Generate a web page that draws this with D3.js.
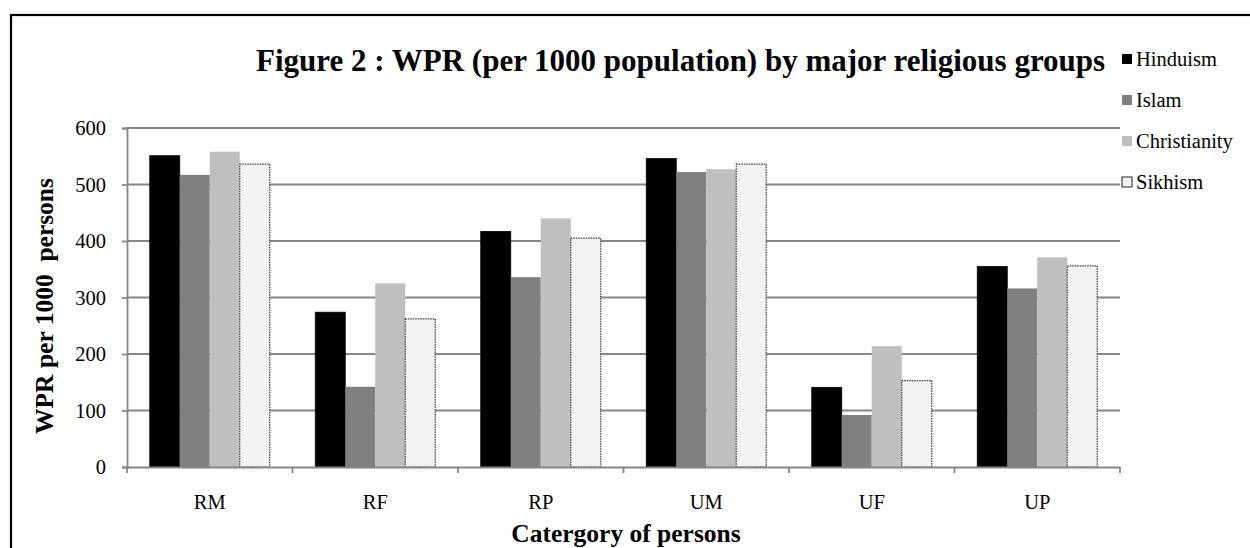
<!DOCTYPE html>
<html lang="en">
<head>
    <meta charset="UTF-8">
    <title>WPR by religious groups</title>
    <script src="https://cdnjs.cloudflare.com/ajax/libs/d3/7.8.5/d3.min.js"></script>
    <style>
        body { margin: 0; background: #fff; }
        svg text { font-family: "Liberation Serif", "Times New Roman", serif; }
    </style>
</head>
<body>
    <script>
        const categories = ['RM', 'RF', 'RP', 'UM', 'UF', 'UP'];
        const religions = ['Hinduism', 'Islam', 'Christianity', 'Sikhism'];
        const hinduism = [551, 274, 417, 546, 141, 355];
        const islam = [517, 142, 336, 522, 92, 316];
        const christianity = [558, 325, 440, 527, 214, 371];
        const sikhism = [536, 262, 405, 536, 153, 356];
        const yTicks = [0, 100, 200, 300, 400, 500, 600];

        const seriesValues = [hinduism, islam, christianity, sikhism];
        const fills = ['#000000', '#808080', '#bfbfbf', '#f2f2f2'];
        const serif = '"Liberation Serif", "Times New Roman", serif';

        const w = 1250;
        const h = 548;
        const plotLeft = 127, plotRight = 1120, plotTop = 128, plotBottom = 467;

        const svg = d3.select('body')
            .append('svg')
            .attr('width', w)
            .attr('height', h)
            .attr('font-family', serif);

        // outer frame (cut off at right and bottom)
        svg.append('rect')
            .attr('x', 11).attr('y', 15)
            .attr('width', 1400).attr('height', 700)
            .attr('fill', 'none')
            .attr('stroke', '#000')
            .attr('stroke-width', 2.2);

        const x0 = d3.scaleBand()
            .domain(categories)
            .range([plotLeft, plotRight]);

        const groupPad = x0.bandwidth() * 0.1375;
        const x1 = d3.scaleBand()
            .domain(religions)
            .range([groupPad, x0.bandwidth() - groupPad]);

        const yScale = d3.scaleLinear()
            .domain([0, 600])
            .range([plotBottom, plotTop]);

        // gridlines
        svg.append('g')
            .selectAll('line')
            .data(yTicks.filter(d => d > 0))
            .enter()
            .append('line')
            .attr('x1', plotLeft).attr('x2', plotRight)
            .attr('y1', d => yScale(d)).attr('y2', d => yScale(d))
            .attr('stroke', '#868686')
            .attr('stroke-width', 1.8);

        // bars
        const rows = categories.map((c, i) => ({
            cat: c,
            vals: religions.map((r, j) => ({ key: r, value: seriesValues[j][i], idx: j }))
        }));

        svg.append('g')
            .selectAll('g')
            .data(rows)
            .enter()
            .append('g')
            .attr('transform', d => `translate(${x0(d.cat)},0)`)
            .selectAll('rect')
            .data(d => d.vals)
            .enter()
            .append('rect')
            .attr('x', d => x1(d.key))
            .attr('y', d => yScale(d.value))
            .attr('width', x1.bandwidth())
            .attr('height', d => yScale(0) - yScale(d.value))
            .attr('fill', d => fills[d.idx])
            .attr('stroke', d => d.idx === 0 ? '#000' : (d.idx === 3 ? '#3a3a3a' : 'none'))
            .attr('stroke-width', d => d.idx === 3 ? 1.2 : 0.8)
            .attr('stroke-dasharray', d => d.idx === 3 ? '1.5,1' : null);

        // y axis
        const yAxis = d3.axisLeft(yScale)
            .tickValues(yTicks)
            .tickSize(5)
            .tickPadding(16);

        const gy = svg.append('g')
            .attr('transform', `translate(${plotLeft},0)`)
            .call(yAxis)
            .attr('font-family', serif)
            .attr('font-size', 20.5);
        gy.select('.domain').attr('stroke', '#868686').attr('stroke-width', 1.8);
        gy.selectAll('.tick line').attr('stroke', '#868686').attr('stroke-width', 1.8);
        gy.selectAll('text').attr('fill', '#000');

        // x axis
        const xAxis = d3.axisBottom(x0)
            .tickSize(0)
            .tickPadding(27.5);

        const gx = svg.append('g')
            .attr('transform', `translate(0,${plotBottom})`)
            .call(xAxis)
            .attr('font-family', serif)
            .attr('font-size', 20.5);
        gx.select('.domain').attr('stroke', '#868686').attr('stroke-width', 1.8);
        gx.selectAll('text').attr('fill', '#000');

        // boundary ticks between categories
        const bounds = categories.map(c => x0(c)).concat([plotRight]);
        gx.append('g')
            .selectAll('line')
            .data(bounds)
            .enter()
            .append('line')
            .attr('x1', d => d).attr('x2', d => d)
            .attr('y1', 0).attr('y2', 6)
            .attr('stroke', '#868686')
            .attr('stroke-width', 1.8);

        // title
        svg.append('text')
            .attr('x', 256)
            .attr('y', 71)
            .attr('font-size', 31)
            .attr('font-weight', 'bold')
            .text('Figure 2 : WPR (per 1000 population) by major religious groups');

        // axis titles
        svg.append('text')
            .attr('x', 626)
            .attr('y', 542)
            .attr('text-anchor', 'middle')
            .attr('font-size', 25.5)
            .attr('font-weight', 'bold')
            .text('Catergory of persons');

        svg.append('text')
            .attr('transform', 'translate(53,306) rotate(-90)')
            .attr('text-anchor', 'middle')
            .attr('font-size', 25.5)
            .attr('font-weight', 'bold')
            .style('white-space', 'pre')
            .text('WPR per 1000  persons');

        // legend
        const legend = svg.append('g')
            .selectAll('g')
            .data(religions)
            .enter()
            .append('g')
            .attr('transform', (d, i) => `translate(1122,${59 + i * 41})`);

        legend.append('rect')
            .attr('x', 0).attr('y', -5)
            .attr('width', 10).attr('height', 10)
            .attr('fill', (d, i) => fills[i])
            .attr('stroke', (d, i) => i === 3 ? '#222' : 'none')
            .attr('stroke-width', 1);

        legend.append('text')
            .attr('x', 14)
            .attr('y', 7)
            .attr('font-size', 20.5)
            .attr('font-family', serif)
            .text(d => d);
    </script>
</body>
</html>
